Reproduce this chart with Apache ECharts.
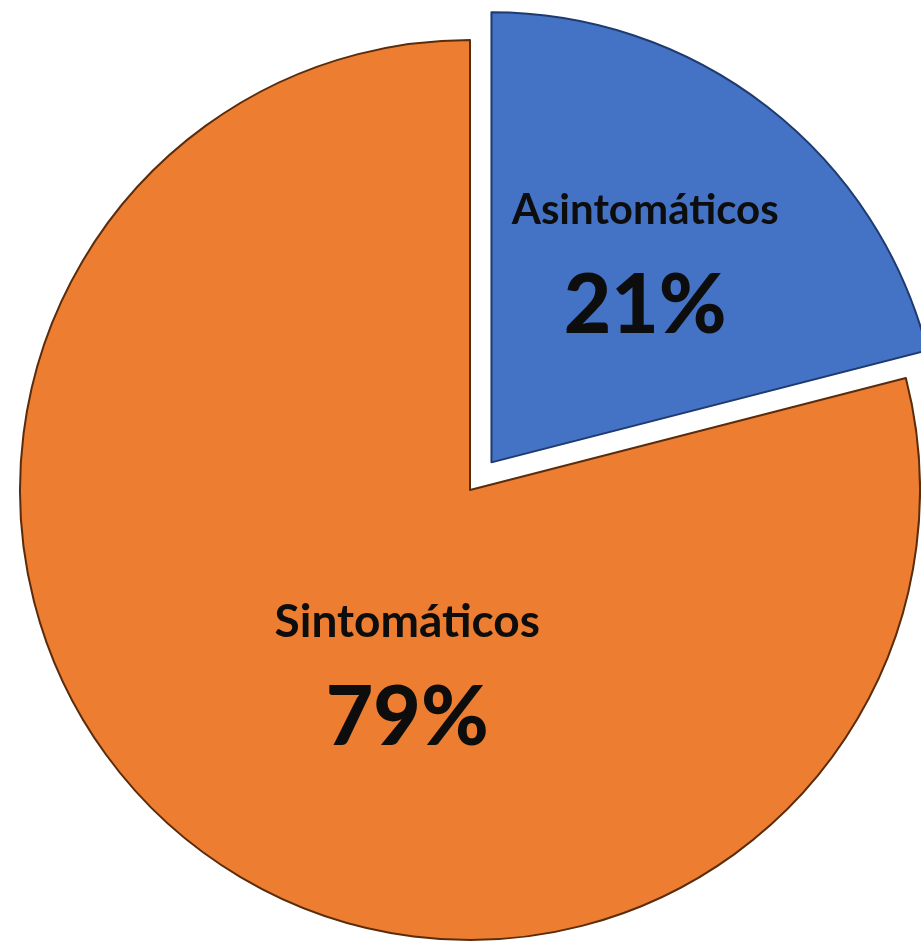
<!DOCTYPE html>
<html>
<head>
<meta charset="utf-8">
<script src="https://cdn.jsdelivr.net/npm/echarts@6/dist/echarts.min.js"></script>
<style>
html,body{margin:0;padding:0;background:#fff;}
#chart{width:921px;height:944px;}
</style>
</head>
<body>
<div id="chart"></div>
<script>
const categories = ['Asintomáticos', 'Sintomáticos'];
const values = [21, 79];
const colors = ['#4472C4', '#ED7D31'];
const borders = ['#1F3A6E', '#5A2C0C'];
const labelShift = [[14, -24], [77, 0]];
const nameSizes = [42, 46];

const chart = echarts.init(document.getElementById('chart'), null, {renderer: 'canvas'});
chart.setOption({
  animation: false,
  backgroundColor: '#ffffff',
  series: [{
    type: 'pie',
    center: [470, 490],
    radius: [0, 450],
    startAngle: 90,
    clockwise: true,
    selectedMode: 'single',
    selectedOffset: 35,
    avoidLabelOverlap: false,
    emphasis: {disabled: true},
    label: {
      show: true,
      position: 'inside',
      formatter: '{n|{b}}\n{p|{d}%}'
    },
    labelLine: {show: false},
    labelLayout: function (p) {
      return {dx: labelShift[p.dataIndex][0], dy: labelShift[p.dataIndex][1]};
    },
    data: categories.map((c, i) => ({
      name: c,
      value: values[i],
      selected: i === 0,
      itemStyle: {color: colors[i], borderColor: borders[i], borderWidth: 2},
      label: {
        rich: {
          n: {fontFamily: 'Lato', fontWeight: 'bold', fontSize: nameSizes[i], color: '#0d0d0d', lineHeight: 96},
          p: {fontFamily: 'Lato', fontWeight: 900, fontSize: 82, color: '#0d0d0d', lineHeight: 96}
        }
      }
    }))
  }]
});
</script>
</body>
</html>
